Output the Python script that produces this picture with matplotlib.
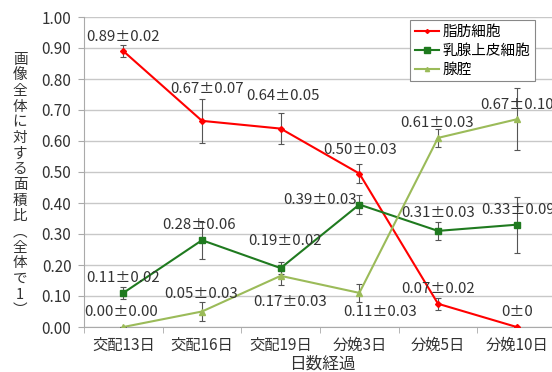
import matplotlib.pyplot as plt
from matplotlib.lines import Line2D
import numpy as np

plt.rcParams['font.family'] = ['Noto Sans CJK JP', 'DejaVu Sans']

# データ
days = ['交配13日', '交配16日', '交配19日', '分娩3日', '分娩5日', '分娩10日']
fat = [0.89, 0.665, 0.64, 0.495, 0.075, 0.0]
fat_err = [0.02, 0.07, 0.05, 0.03, 0.02, 0.0]
fat_txt = ['0.89±0.02', '0.67±0.07', '0.64±0.05', '0.50±0.03', '0.07±0.02', '0±0']
epi = [0.11, 0.28, 0.19, 0.395, 0.31, 0.33]
epi_err = [0.02, 0.06, 0.02, 0.03, 0.03, 0.09]
epi_txt = ['0.11±0.02', '0.28±0.06', '0.19±0.02', '0.39±0.03', '0.31±0.03', '0.33±0.09']
lum = [0.0, 0.05, 0.165, 0.11, 0.61, 0.67]
lum_err = [0.0, 0.03, 0.03, 0.03, 0.03, 0.10]
lum_txt = ['0.00±0.00', '0.05±0.03', '0.17±0.03', '0.11±0.03', '0.61±0.03', '0.67±0.10']

# ラベルのずらし量（ピクセル）
fat_off = [(0, 14), (5, 32), (2, 33), (1, 24), (0, 15), (0, 15)]
epi_off = [(0, 15), (-3, 15), (4, 27), (-39, 5), (0, 18), (1, 15)]
lum_off = [(-2, 15), (-1, 17), (9, -26), (21, -19), (-1, 15), (0, 14)]

fig = plt.figure(figsize=(5.52, 3.72), dpi=100)
ax = fig.add_axes([84 / 552, 45 / 372, 472 / 552, 310 / 372])

x = np.arange(len(days))
series = [
    (fat, fat_err, fat_txt, fat_off, '#ff0000', 'D', 3, '脂肪細胞'),
    (epi, epi_err, epi_txt, epi_off, '#1f7a1f', 's', 5, '乳腺上皮細胞'),
    (lum, lum_err, lum_txt, lum_off, '#9bbb59', '^', 4, '腺腔'),
]
handles = []
for vals, err, txt, off, col, mk, ms, name in series:
    ax.errorbar(x, vals, yerr=err, color=col, marker=mk, markersize=ms, lw=1.5,
                ecolor='#555555', elinewidth=0.8, capsize=2.5, capthick=0.8, zorder=3)
    handles.append(Line2D([], [], color=col, marker=mk, markersize=ms - 1, lw=1.5, label=name))
    for i in range(len(x)):
        ax.annotate(txt[i], (x[i], vals[i]), xytext=off[i], textcoords='offset pixels',
                    ha='center', va='center', fontsize=10.8, color='#333333', zorder=4)

ax.set_xlim(-0.5, 5.5)
ax.set_ylim(0, 1.0)
ax.set_yticks(np.arange(0, 1.01, 0.1))
ax.set_yticklabels(['%.2f' % v for v in np.arange(0, 1.01, 0.1)], fontsize=11, color='#333333')
ax.set_xticks(x)
ax.set_xticklabels(days, fontsize=11, color='#333333')
ax.set_xticks(np.arange(-0.5, 6, 1), minor=True)
ax.tick_params(axis='x', which='major', length=0, pad=7)
ax.tick_params(axis='x', which='minor', length=4, color='#aaaaaa')
ax.tick_params(axis='y', length=4, color='#aaaaaa', pad=5)
ax.grid(axis='y', color='#c8c8c8', lw=1)
ax.set_axisbelow(True)
for s in ['top', 'right']:
    ax.spines[s].set_visible(False)
for s in ['left', 'bottom']:
    ax.spines[s].set_color('#aaaaaa')

fig.text(322 / 552, 1 - 364 / 372, '日数経過', ha='center', va='center',
         fontsize=12, color='#333333')
ylab = '画像全体に対する面積比︵全体で1︶'
fig.text(20 / 552, 1 - 185 / 372, '\n'.join(ylab), ha='center', va='center',
         fontsize=10.5, linespacing=1.15, color='#333333')

leg = ax.legend(handles=handles, loc='upper left', bbox_to_anchor=(403 / 552, 1 - 13 / 372),
                bbox_transform=fig.transFigure, fontsize=10.5, frameon=True, fancybox=False,
                edgecolor='#888888', borderpad=0.3, labelspacing=0.35, handlelength=1.7,
                handletextpad=0.2, framealpha=1)
leg.get_frame().set_linewidth(0.8)

plt.savefig('out.png', dpi=100)
